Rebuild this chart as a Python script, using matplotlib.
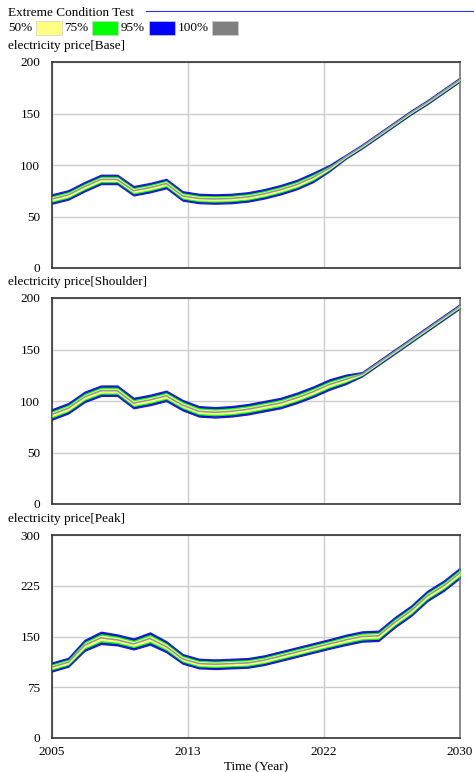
import numpy as np
import matplotlib.pyplot as plt
from matplotlib.patches import Rectangle
from matplotlib.lines import Line2D

# ===================== 数据 =====================
years = np.arange(2005, 2031)

base_mid = [67, 71, 79, 86, 86, 75, 78, 82, 70, 67.5, 67, 67.5, 69, 72, 76, 81,
            88, 97, 108, 118, 129, 140, 151, 161, 172, 183]
base_spread = [4.5] * 17 + [3.0] + [1.8] * 8

shoulder_mid = [87, 93, 104, 110, 110, 98, 101, 105, 96, 90, 89, 90, 92, 95, 98, 103,
                109, 116, 121, 126, 137, 148, 159, 170, 181, 192]
shoulder_spread = [5.0] * 18 + [4.5] + [2.0] * 7

peak_mid = [105, 112, 137, 148, 145, 139, 147, 135, 117, 110, 109, 110, 111, 115, 121, 127,
            133, 139, 145, 150, 151, 171, 188, 210, 225, 244]
peak_spread = [6.5, 6.5, 8, 9, 8, 8, 9, 8, 7, 7, 7, 7, 7, 7, 7, 7, 7, 7, 7.5, 7.5, 7.5, 7.5, 7.5, 7.5, 7.5, 7.5]

panel_titles = ["electricity price[Base]", "electricity price[Shoulder]", "electricity price[Peak]"]
y_ticks = [[0, 50, 100, 150, 200], [0, 50, 100, 150, 200], [0, 75, 150, 225, 300]]
x_tick_labels = ["2005", "2013", "2022", "2030"]
legend_labels = ["50%", "75%", "95%", "100%"]

# ===================== 样式 =====================
plt.rcParams['font.family'] = ['Liberation Serif', 'DejaVu Serif']
FS = 9.5
C_BLUE, C_GREEN, C_YELLOW, C_GREY = "#0000ff", "#00ff00", "#ffff80", "#808080"
W, H = 474, 772

fig = plt.figure(figsize=(W / 100, H / 100), dpi=100)


def px(x, y):
    return x / W, 1 - y / H


# 标题与图例
fig.text(*px(8, 13), "Extreme Condition Test", fontsize=FS, va="center", ha="left")
fig.add_artist(Line2D([146 / W, 1], [1 - 11 / H] * 2, color="#3030ff", lw=0.8))
leg_text_x = [8, 64, 121, 178]
leg_box_x = [36, 92, 149, 212]
leg_cols = [C_YELLOW, C_GREEN, C_BLUE, C_GREY]
for lab, tx, bx, c in zip(legend_labels, leg_text_x, leg_box_x, leg_cols):
    fig.text(*px(tx, 28), lab, fontsize=FS, va="center", ha="left")
    fig.add_artist(Rectangle(px(bx, 35), 26 / W, 14 / H, facecolor=c,
                             edgecolor="#d0d0d0", lw=0.5, transform=fig.transFigure))

# 三个子图
tops = [62, 298, 535]
bottoms = [268, 504, 738]
mids = [base_mid, shoulder_mid, peak_mid]
spreads = [base_spread, shoulder_spread, peak_spread]
xt = [2005 + 25 / 3 * k for k in range(4)]

for i in range(3):
    l, b = px(52, bottoms[i])
    ax = fig.add_axes([l, b, 408 / W, (bottoms[i] - tops[i]) / H])
    mid = np.array(mids[i], dtype=float)
    sp = np.array(spreads[i], dtype=float)
    ax.fill_between(years, mid - sp, mid + sp, facecolor=C_BLUE, edgecolor="#2020c0",
                    lw=1.0, zorder=2)
    ax.fill_between(years, mid - sp * 0.7, mid + sp * 0.7, color=C_GREEN, lw=0, zorder=3)
    ax.fill_between(years, mid - sp * 0.45, mid + sp * 0.45, color=C_YELLOW, lw=0, zorder=4)
    ax.plot(years, mid, color="#9090a8", lw=1.1, zorder=5)

    ax.set_xlim(2005, 2030)
    ax.set_ylim(y_ticks[i][0], y_ticks[i][-1])
    ax.set_yticks(y_ticks[i])
    ax.set_xticks(xt)
    ax.grid(True, color="#cccccc", lw=1, zorder=0)
    ax.set_axisbelow(True)
    ax.tick_params(length=0, labelsize=FS, pad=8.5)
    for s in ax.spines.values():
        s.set_color("#333333")
        s.set_linewidth(1.2)
    ax.spines["right"].set_color("#777777")
    if i < 2:
        ax.set_xticklabels([])
    else:
        ax.set_xticklabels(x_tick_labels)
        ax.tick_params(axis="x", pad=6)
        ax.set_xlabel("Time (Year)", fontsize=FS, labelpad=2)
    fig.text(*px(8, tops[i] - 16), panel_titles[i], fontsize=FS, va="center", ha="left")

fig.savefig("out.png", dpi=100)
